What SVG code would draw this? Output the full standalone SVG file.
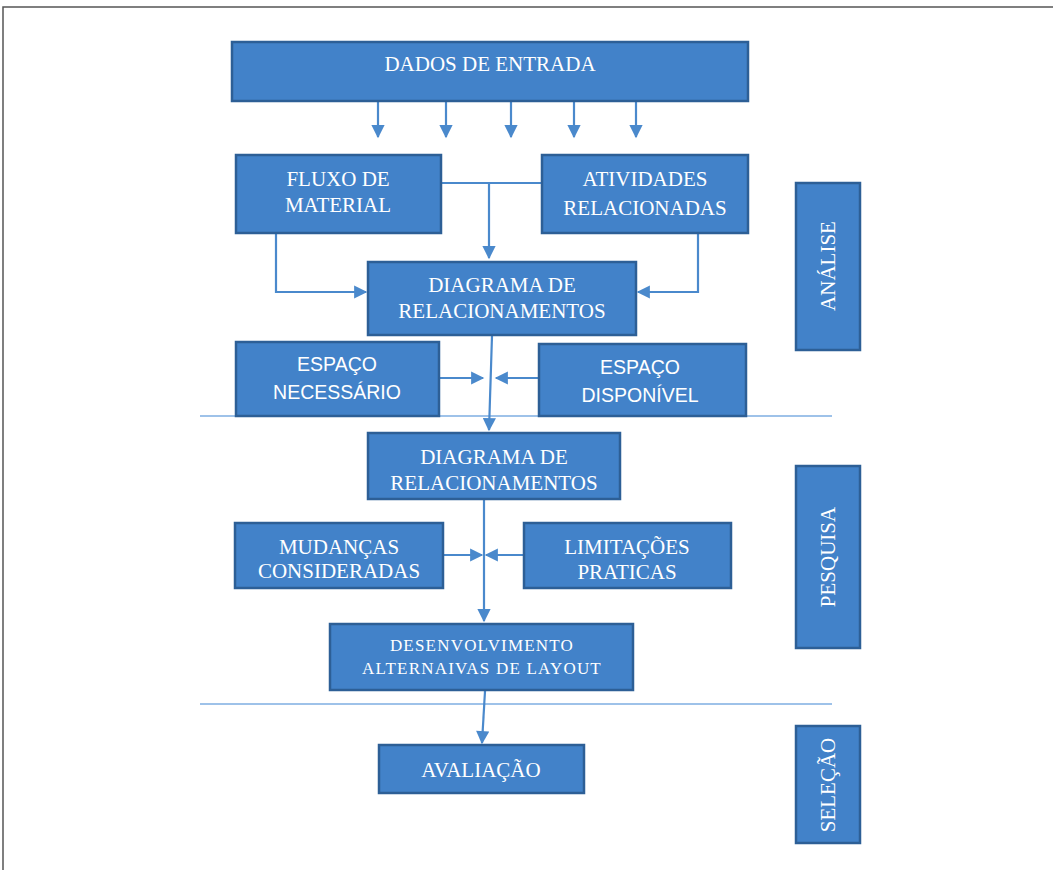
<svg xmlns="http://www.w3.org/2000/svg" width="1053" height="870" viewBox="0 0 1053 870">
<style>
.box{fill:#4282c9;stroke:#2d5f96;stroke-width:2.5}
.t{font-family:"Liberation Serif","Times New Roman",serif;font-size:21px;fill:#ffffff;text-anchor:middle}
.s{font-family:"Liberation Sans",Arial,sans-serif;font-size:19.5px;fill:#ffffff;text-anchor:middle}
.small{font-size:17px;letter-spacing:1.2px}
.c{fill:none;stroke:#4a89cc;stroke-width:2.2}
.sep{fill:none;stroke:#7eaee2;stroke-width:1.5}
</style>
<defs>
<marker id="ah" viewBox="0 0 10 10" refX="9" refY="5" markerWidth="6.5" markerHeight="6" orient="auto" markerUnits="strokeWidth">
<path d="M0,0 L10,5 L0,10 Z" fill="#4a89cc"/>
</marker>
</defs>
<rect width="1053" height="870" fill="#ffffff"/>
<path d="M3,880 L3,7 L1060,7" fill="none" stroke="#555555" stroke-width="1.5"/>

<g id="separators">
<line class="sep" x1="200" y1="416" x2="832" y2="416"/>
<line class="sep" x1="200" y1="704" x2="832" y2="704"/>
</g>

<g id="connectors">
<line class="c" x1="378" y1="101" x2="378" y2="137" marker-end="url(#ah)"/>
<line class="c" x1="446" y1="101" x2="446" y2="137" marker-end="url(#ah)"/>
<line class="c" x1="511" y1="101" x2="511" y2="137" marker-end="url(#ah)"/>
<line class="c" x1="574" y1="101" x2="574" y2="137" marker-end="url(#ah)"/>
<line class="c" x1="636" y1="101" x2="636" y2="137" marker-end="url(#ah)"/>
<line class="c" x1="441" y1="183" x2="542" y2="183"/>
<line class="c" x1="489" y1="183" x2="489" y2="258" marker-end="url(#ah)"/>
<polyline class="c" points="276,233 276,292 366,292" marker-end="url(#ah)"/>
<polyline class="c" points="698,233 698,292 638,292" marker-end="url(#ah)"/>
<line class="c" x1="492" y1="336" x2="489" y2="430" marker-end="url(#ah)"/>
<line class="c" x1="439" y1="378" x2="483" y2="378" marker-end="url(#ah)"/>
<line class="c" x1="539" y1="378" x2="496" y2="378" marker-end="url(#ah)"/>
<line class="c" x1="484" y1="500" x2="484" y2="621" marker-end="url(#ah)"/>
<line class="c" x1="443" y1="555" x2="482" y2="555" marker-end="url(#ah)"/>
<line class="c" x1="524" y1="555" x2="486" y2="555" marker-end="url(#ah)"/>
<line class="c" x1="485" y1="691" x2="482" y2="743" marker-end="url(#ah)"/>
</g>

<g id="dados"><rect class="box" x="232" y="42" width="516" height="59"/><text class="t" x="490" y="71">DADOS DE ENTRADA</text></g>
<g id="fluxo"><rect class="box" x="236" y="155" width="205" height="78"/><text class="t" x="338" y="186">FLUXO DE</text><text class="t" x="338" y="212">MATERIAL</text></g>
<g id="atividades"><rect class="box" x="542" y="155" width="206" height="78"/><text class="t" x="645" y="186">ATIVIDADES</text><text class="t" x="645" y="215">RELACIONADAS</text></g>
<g id="diagrama1"><rect class="box" x="368" y="262" width="268" height="73"/><text class="t" x="502" y="292">DIAGRAMA DE</text><text class="t" x="502" y="318">RELACIONAMENTOS</text></g>
<g id="espaco-necessario"><rect class="box" x="236" y="342" width="203" height="74"/><text class="s" x="337" y="371">ESPAÇO</text><text class="s" x="337" y="399">NECESSÁRIO</text></g>
<g id="espaco-disponivel"><rect class="box" x="539" y="344" width="207" height="72"/><text class="s" x="640" y="374">ESPAÇO</text><text class="s" x="640" y="402">DISPONÍVEL</text></g>
<g id="diagrama2"><rect class="box" x="368" y="433" width="252" height="66"/><text class="t" x="494" y="464">DIAGRAMA DE</text><text class="t" x="494" y="490">RELACIONAMENTOS</text></g>
<g id="mudancas"><rect class="box" x="235" y="523" width="208" height="65"/><text class="t" x="339" y="554">MUDANÇAS</text><text class="t" x="339" y="578">CONSIDERADAS</text></g>
<g id="limitacoes"><rect class="box" x="524" y="523" width="207" height="65"/><text class="t" x="627" y="554">LIMITAÇÕES</text><text class="t" x="627" y="579">PRATICAS</text></g>
<g id="desenvolvimento"><rect class="box" x="330" y="624" width="303" height="66"/><text class="t small" x="482" y="651">DESENVOLVIMENTO</text><text class="t small" x="482" y="674">ALTERNAIVAS DE LAYOUT</text></g>
<g id="avaliacao"><rect class="box" x="379" y="745" width="205" height="48"/><text class="t" x="481" y="777">AVALIAÇÃO</text></g>
<g id="analise"><rect class="box" x="796" y="183" width="64" height="167"/><text class="t" transform="translate(835,266) rotate(-90)">ANÁLISE</text></g>
<g id="pesquisa"><rect class="box" x="796" y="466" width="64" height="182"/><text class="t" transform="translate(835,557) rotate(-90)">PESQUISA</text></g>
<g id="selecao"><rect class="box" x="796" y="726" width="64" height="117"/><text class="t" transform="translate(835,785) rotate(-90)">SELEÇÃO</text></g>
</svg>
